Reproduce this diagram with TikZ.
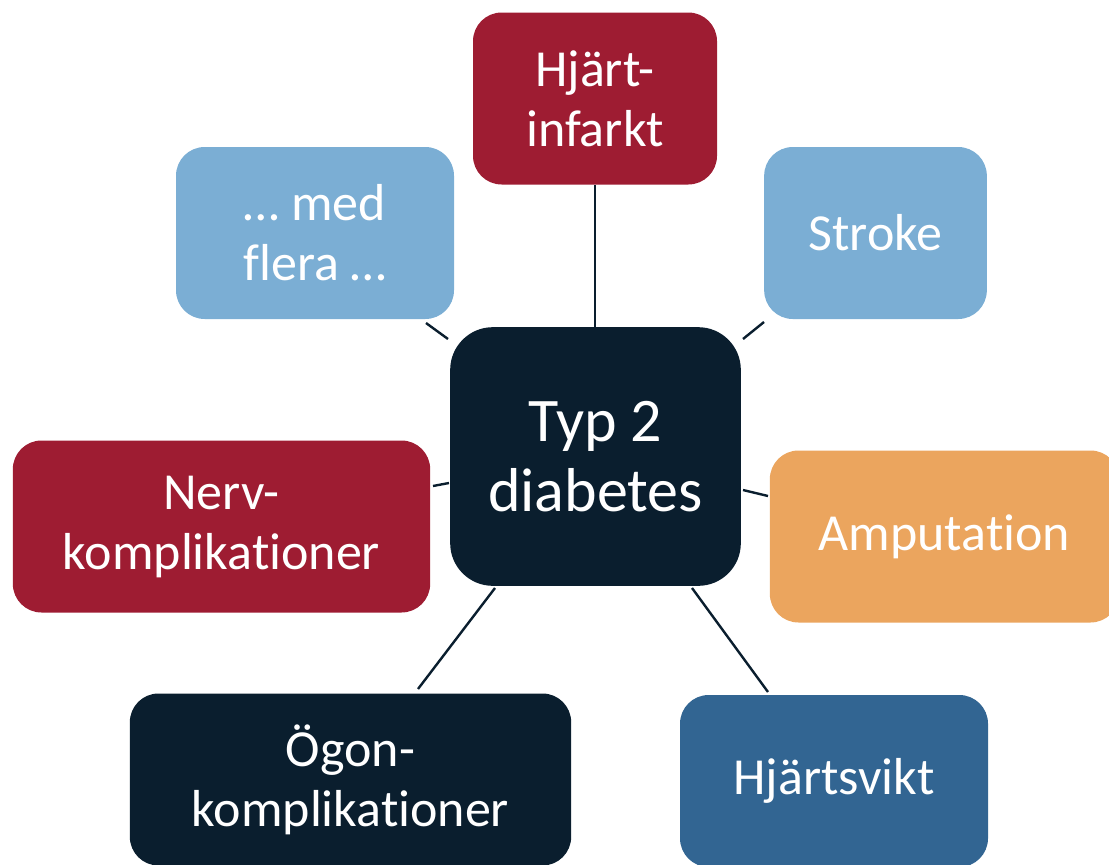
\documentclass[tikz,border=0pt]{standalone}
\usepackage{fontspec}
\setmainfont[Ligatures={NoCommon}]{Carlito}
\definecolor{navy}{HTML}{0A1E2E}
\definecolor{wine}{HTML}{9E1C32}
\definecolor{sky}{HTML}{7BAED4}
\definecolor{peach}{HTML}{EBA55E}
\definecolor{steel}{HTML}{326592}
\tikzset{
  outerbox/.style={draw=none, rounded corners=21.5pt, align=center, text=white,
    font=\fontsize{39}{45}\selectfont, inner sep=0pt, minimum height=129pt},
  centerbox/.style={draw=none, fill=navy, rounded corners=32pt, align=center, text=white,
    font=\fontsize{46.5}{52.5}\selectfont, inner sep=0pt, minimum width=218pt, minimum height=194pt},
  link/.style={draw=navy, line width=1.8pt}
}
\begin{document}
\begin{tikzpicture}[x=0.75pt,y=-0.75pt]
\useasboundingbox (0,0) rectangle (1109,864);
\begin{scope}
\clip (0,0) rectangle (1109,864);
\node[centerbox] (center) at (595.5,456.5) {Typ 2\\diabetes};
\node[outerbox, fill=wine, minimum width=183pt] (hjartinfarkt) at (595,98.5) {Hjärt-\\infarkt};
\node[outerbox, fill=sky, minimum width=167pt] (stroke) at (875.5,233) {Stroke};
\node[outerbox, fill=sky, minimum width=208.5pt] (flera) at (315,233) {… med\\flera …};
\node[outerbox, fill=wine, minimum width=313pt] (nerv) at (221.5,526.5) {Nerv-\\komplikationer};
\node[outerbox, fill=peach, minimum width=262pt] (amputation) at (944.5,536.5) {Amputation};
\node[outerbox, fill=navy, minimum width=331pt] (ogon) at (350.5,779.5) {Ögon-\\komplikationer};
\node[outerbox, fill=steel, minimum width=231pt] (hjartsvikt) at (834,781) {Hjärtsvikt};
\end{scope}
% connector end points
\coordinate (t1) at (595,185);  \coordinate (t2) at (595,327);
\coordinate (tr1) at (764,322); \coordinate (tr2) at (743,339);
\coordinate (tl1) at (426,323); \coordinate (tl2) at (448,339);
\coordinate (l1) at (433,486);  \coordinate (l2) at (449,483);
\coordinate (r1) at (743,490);  \coordinate (r2) at (768,496);
\coordinate (bl1) at (495,588); \coordinate (bl2) at (418,689);
\coordinate (br1) at (692,588); \coordinate (br2) at (768,692);
\draw[link] (t1) -- (t2);
\draw[link] (tr1) -- (tr2);
\draw[link] (tl1) -- (tl2);
\draw[link] (l1) -- (l2);
\draw[link] (r1) -- (r2);
\draw[link] (bl1) -- (bl2);
\draw[link] (br1) -- (br2);
\end{tikzpicture}
\end{document}
